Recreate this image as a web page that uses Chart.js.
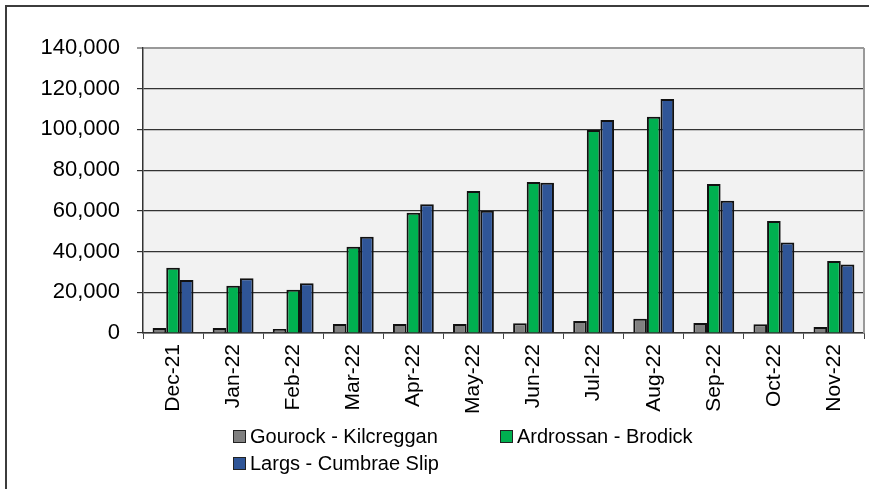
<!DOCTYPE html>
<html>
<head>
<meta charset="utf-8">
<script src="https://cdn.jsdelivr.net/npm/chart.js@4/dist/chart.umd.min.js"></script>
<style>
  body { margin: 0; background: #fff; font-family: "Liberation Sans", Arial, sans-serif; }
  #wrap { position: relative; width: 871px; height: 489px; overflow: hidden; }
  #frame { position: absolute; left: 5px; top: 5px; width: 864px; height: 500px;
           border-top: 2px solid #3c3c3c; border-left: 2px solid #3c3c3c; box-sizing: border-box; }
  #myChart { position: absolute; left: 0; top: 0; }
  #legend { position: absolute; left: 233px; top: 423px; display: grid;
            grid-template-columns: 267px 267px; grid-auto-rows: 27px; }
  .item { display: flex; align-items: center; font-size: 20px; color: #000; white-space: nowrap; }
  .box { width: 11px; height: 11px; border: 1px solid #222; margin-right: 4px; }
</style>
</head>
<body>
<div id="wrap">
  <div id="frame"></div>
  <canvas id="myChart" width="871" height="489"></canvas>
  <div id="legend"></div>
</div>

<script>
var months = ['Dec-21', 'Jan-22', 'Feb-22', 'Mar-22', 'Apr-22', 'May-22', 'Jun-22', 'Jul-22', 'Aug-22', 'Sep-22', 'Oct-22', 'Nov-22'];
var gourock = [2500, 2500, 2000, 4400, 4400, 4400, 4800, 5900, 7000, 4900, 4300, 3000];
var ardrossan = [32000, 23200, 21300, 42400, 59100, 69700, 74200, 99700, 106200, 73200, 55000, 35400];
var largs = [26000, 26900, 24400, 47300, 63200, 60000, 73800, 104600, 115000, 65000, 44500, 33700];
var seriesNames = ['Gourock - Kilcreggan', 'Ardrossan - Brodick', 'Largs - Cumbrae Slip'];
var seriesColors = ['#808080', '#00b050', '#2f5597'];
var yTicks = [0, 20000, 40000, 60000, 80000, 100000, 120000, 140000];

var plotBg = {
  id: 'plotBg',
  beforeDraw: function(chart) {
    var a = chart.chartArea, ctx = chart.ctx;
    ctx.save();
    ctx.fillStyle = '#f2f2f2';
    ctx.fillRect(a.left, a.top, a.right - a.left, a.bottom - a.top);
    ctx.restore();
  },
  afterDraw: function(chart) {
    var a = chart.chartArea, ctx = chart.ctx;
    ctx.save();
    ctx.strokeStyle = '#999';
    ctx.lineWidth = 2;
    ctx.beginPath();
    ctx.moveTo(a.right, a.top);
    ctx.lineTo(a.right, a.bottom);
    ctx.stroke();
    ctx.restore();
  }
};

var values = [gourock, ardrossan, largs];
var datasets = seriesNames.map(function(name, i) {
  return {
    label: name,
    data: values[i],
    backgroundColor: seriesColors[i],
    borderColor: '#111',
    borderWidth: 2,
    borderSkipped: 'bottom',
    categoryPercentage: 0.68,
    barPercentage: 1.0
  };
});

var ctx = document.getElementById('myChart').getContext('2d');
var myChart = new Chart(ctx, {
  type: 'bar',
  data: { labels: months, datasets: datasets },
  plugins: [plotBg],
  options: {
    responsive: false,
    animation: false,
    layout: { padding: { left: 0, top: 48, right: 7, bottom: 66 } },
    plugins: { legend: { display: false }, tooltip: { enabled: false } },
    scales: {
      x: {
        afterFit: function(scale) { scale.height = 90; },
        grid: { offset: true, drawOnChartArea: false, drawTicks: true, tickLength: 6, color: '#444', lineWidth: 1 },
        border: { color: '#333', width: 1.5 },
        ticks: { color: '#000', font: { family: 'Liberation Sans', size: 21 }, maxRotation: 90, minRotation: 90, padding: 5 }
      },
      y: {
        min: 0,
        max: 140000,
        afterFit: function(scale) { scale.width = 143; },
        afterBuildTicks: function(scale) { scale.ticks = yTicks.map(function(v) { return { value: v }; }); },
        grid: {
          color: function(c) { return c.tick && c.tick.value === 140000 ? '#999' : '#333'; },
          lineWidth: function(c) { return c.tick && c.tick.value === 140000 ? 2 : 1.2; },
          tickLength: 6
        },
        border: { color: '#333', width: 1.5 },
        ticks: { color: '#000', font: { family: 'Liberation Sans', size: 22 }, padding: 17 }
      }
    }
  }
});

var legend = document.getElementById('legend');
seriesNames.forEach(function(name, i) {
  var item = document.createElement('div');
  item.className = 'item';
  var box = document.createElement('span');
  box.className = 'box';
  box.style.background = seriesColors[i];
  var text = document.createElement('span');
  text.textContent = name;
  item.appendChild(box);
  item.appendChild(text);
  legend.appendChild(item);
});
</script>
</body>
</html>
